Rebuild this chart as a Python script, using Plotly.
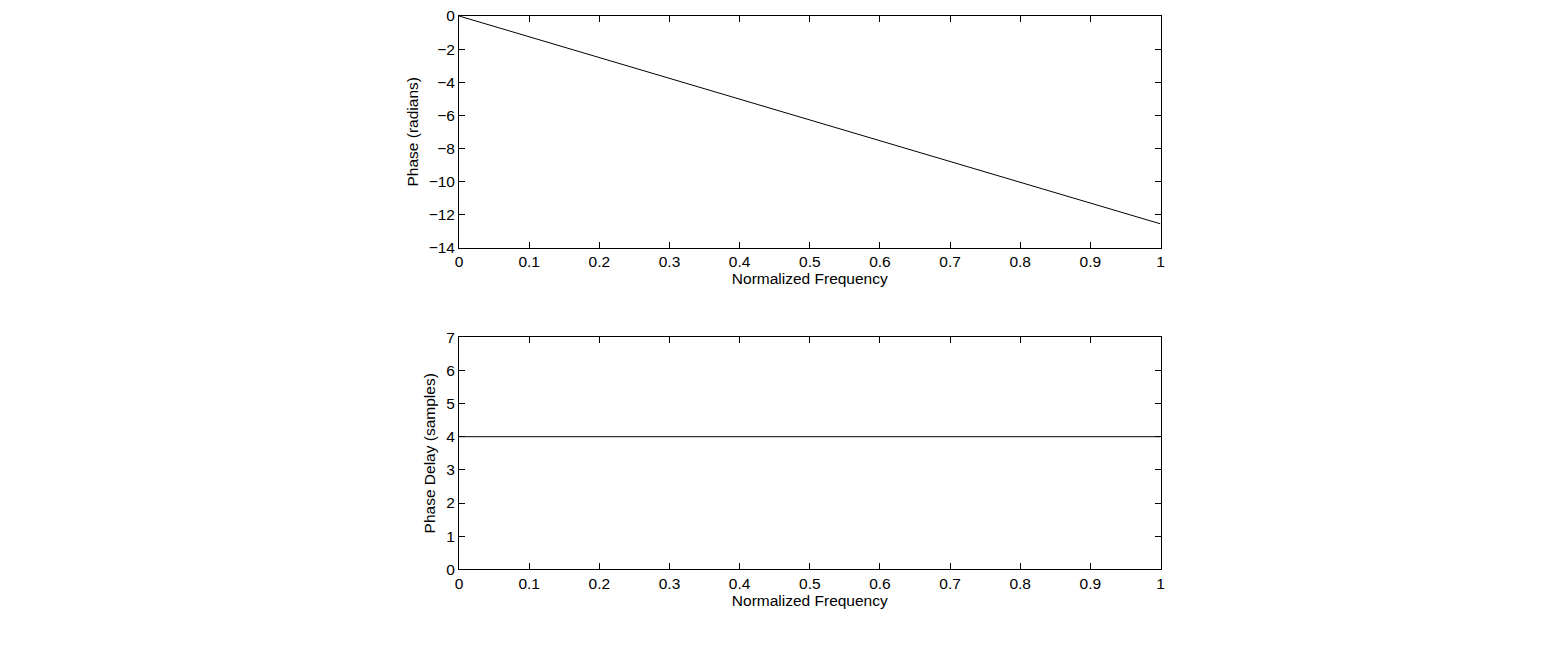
import plotly.graph_objects as go

freq = [0, 0.25, 0.5, 0.75, 1.0]
phase = [0, -3.14, -6.28, -9.42, -12.57]
delay_freq = [0, 0.25, 0.5, 0.75, 1.0]
delay = [4, 4, 4, 4, 4]

x_ticks = [0, 0.1, 0.2, 0.3, 0.4, 0.5, 0.6, 0.7, 0.8, 0.9, 1]
x_labels = ["0", "0.1", "0.2", "0.3", "0.4", "0.5", "0.6", "0.7", "0.8", "0.9", "1"]
phase_ticks = [0, -2, -4, -6, -8, -10, -12, -14]
phase_labels = ["0", "−2", "−4", "−6", "−8", "−10", "−12", "−14"]
delay_ticks = [0, 1, 2, 3, 4, 5, 6, 7]

font = dict(family="Liberation Sans, Arial, Helvetica", size=15.5, color="black")

fig = go.Figure()
fig.add_trace(go.Scatter(x=freq, y=phase, mode="lines",
                         line=dict(color="black", width=1),
                         xaxis="x", yaxis="y", showlegend=False))
fig.add_trace(go.Scatter(x=delay_freq, y=delay, mode="lines",
                         line=dict(color="black", width=1),
                         xaxis="x2", yaxis="y2", showlegend=False))

axis_style = dict(showline=True, linecolor="black", linewidth=1, mirror="ticks",
                  ticks="inside", ticklen=6, tickcolor="black", tickwidth=1,
                  showgrid=False, zeroline=False, tickfont=font, automargin=False,
                  ticklabeloverflow="allow")

# page body adds 8px, so domains are shifted a bit
fig.update_layout(
    width=1564, height=651,
    margin=dict(l=0, r=0, t=0, b=0),
    paper_bgcolor="white", plot_bgcolor="white",
    font=font,
    xaxis=dict(domain=[0.2884, 0.7369], anchor="y", range=[0, 1],
               tickvals=x_ticks, ticktext=x_labels,
               title=dict(text="Normalized Frequency", font=font, standoff=3),
               **axis_style),
    yaxis=dict(domain=[0.6321, 0.9877], anchor="x", range=[-14, 0],
               tickvals=phase_ticks, ticktext=phase_labels,
               title=dict(text="Phase (radians)", font=font, standoff=6),
               **axis_style),
    xaxis2=dict(domain=[0.2884, 0.7369], anchor="y2", range=[0, 1],
                tickvals=x_ticks, ticktext=x_labels,
                title=dict(text="Normalized Frequency", font=font, standoff=3),
                **axis_style),
    yaxis2=dict(domain=[0.1378, 0.4942], anchor="x2", range=[0, 7],
                tickvals=delay_ticks,
                title=dict(text="Phase Delay (samples)", font=font, standoff=6),
                **axis_style),
)

fig.write_html("out.html")
